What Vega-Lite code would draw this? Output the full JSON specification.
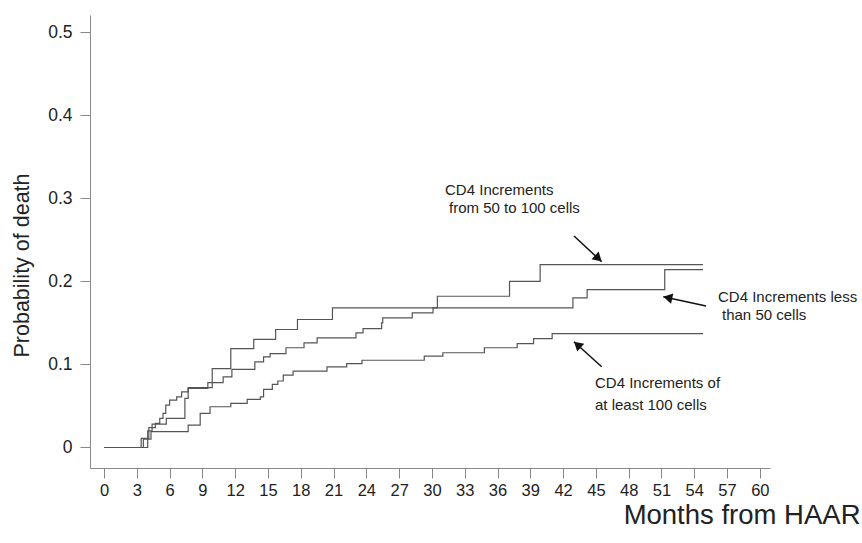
{
  "$schema": "https://vega.github.io/schema/vega-lite/v6.json",
  "width": 680,
  "height": 453,
  "autosize": {"type": "none"},
  "padding": {"left": 90, "top": 15, "right": 92, "bottom": 75},
  "background": "white",
  "config": {
    "view": {"stroke": null},
    "font": "Liberation Sans"
  },
  "datasets": {
    "curves": [
      {"g": "lt50", "m": 0, "v": 0},
      {"g": "lt50", "m": 3.4, "v": 0.011},
      {"g": "lt50", "m": 4.1, "v": 0.024},
      {"g": "lt50", "m": 4.7, "v": 0.029},
      {"g": "lt50", "m": 5.1, "v": 0.035},
      {"g": "lt50", "m": 5.4, "v": 0.041},
      {"g": "lt50", "m": 5.65, "v": 0.051},
      {"g": "lt50", "m": 6.0, "v": 0.057},
      {"g": "lt50", "m": 6.65, "v": 0.061},
      {"g": "lt50", "m": 7.1, "v": 0.067},
      {"g": "lt50", "m": 7.7, "v": 0.072},
      {"g": "lt50", "m": 9.9, "v": 0.095},
      {"g": "lt50", "m": 11.6, "v": 0.119},
      {"g": "lt50", "m": 13.7, "v": 0.130},
      {"g": "lt50", "m": 15.7, "v": 0.142},
      {"g": "lt50", "m": 17.7, "v": 0.154},
      {"g": "lt50", "m": 20.9, "v": 0.168},
      {"g": "lt50", "m": 42.9, "v": 0.180},
      {"g": "lt50", "m": 44.2, "v": 0.190},
      {"g": "lt50", "m": 51.3, "v": 0.214},
      {"g": "lt50", "m": 54.8, "v": 0.214},
      {"g": "50to100", "m": 0, "v": 0},
      {"g": "50to100", "m": 3.6, "v": 0.010},
      {"g": "50to100", "m": 4.0, "v": 0.020},
      {"g": "50to100", "m": 4.4, "v": 0.028},
      {"g": "50to100", "m": 5.7, "v": 0.035},
      {"g": "50to100", "m": 7.4, "v": 0.059},
      {"g": "50to100", "m": 7.7, "v": 0.071},
      {"g": "50to100", "m": 9.5, "v": 0.078},
      {"g": "50to100", "m": 10.9, "v": 0.085},
      {"g": "50to100", "m": 11.7, "v": 0.094},
      {"g": "50to100", "m": 13.8, "v": 0.103},
      {"g": "50to100", "m": 14.6, "v": 0.109},
      {"g": "50to100", "m": 15.2, "v": 0.113},
      {"g": "50to100", "m": 16.65, "v": 0.120},
      {"g": "50to100", "m": 18.3, "v": 0.126},
      {"g": "50to100", "m": 19.5, "v": 0.132},
      {"g": "50to100", "m": 23.05, "v": 0.138},
      {"g": "50to100", "m": 23.7, "v": 0.143},
      {"g": "50to100", "m": 25.4, "v": 0.150},
      {"g": "50to100", "m": 25.5, "v": 0.156},
      {"g": "50to100", "m": 28.2, "v": 0.162},
      {"g": "50to100", "m": 30.1, "v": 0.168},
      {"g": "50to100", "m": 30.5, "v": 0.182},
      {"g": "50to100", "m": 37.1, "v": 0.200},
      {"g": "50to100", "m": 39.9, "v": 0.220},
      {"g": "50to100", "m": 54.8, "v": 0.220},
      {"g": "ge100", "m": 0, "v": 0},
      {"g": "ge100", "m": 4.0, "v": 0.010},
      {"g": "ge100", "m": 4.3, "v": 0.019},
      {"g": "ge100", "m": 7.7, "v": 0.027},
      {"g": "ge100", "m": 8.8, "v": 0.041},
      {"g": "ge100", "m": 9.7, "v": 0.049},
      {"g": "ge100", "m": 11.6, "v": 0.053},
      {"g": "ge100", "m": 13.1, "v": 0.058},
      {"g": "ge100", "m": 14.3, "v": 0.061},
      {"g": "ge100", "m": 14.6, "v": 0.070},
      {"g": "ge100", "m": 15.4, "v": 0.076},
      {"g": "ge100", "m": 15.9, "v": 0.080},
      {"g": "ge100", "m": 16.4, "v": 0.087},
      {"g": "ge100", "m": 17.3, "v": 0.092},
      {"g": "ge100", "m": 20.4, "v": 0.097},
      {"g": "ge100", "m": 22.2, "v": 0.101},
      {"g": "ge100", "m": 23.6, "v": 0.105},
      {"g": "ge100", "m": 29.3, "v": 0.110},
      {"g": "ge100", "m": 31.0, "v": 0.114},
      {"g": "ge100", "m": 34.8, "v": 0.120},
      {"g": "ge100", "m": 37.8, "v": 0.125},
      {"g": "ge100", "m": 39.3, "v": 0.131},
      {"g": "ge100", "m": 41.0, "v": 0.137},
      {"g": "ge100", "m": 54.8, "v": 0.137}
    ],
    "arrows": [
      {"m": 43.0, "v": 0.2545, "m2": 45.53, "v2": 0.2236, "hm": 45.13, "hv": 0.2287, "ang": 133},
      {"m": 55.08, "v": 0.1703, "m2": 51.17, "v2": 0.1815, "hm": 51.71, "hv": 0.1799, "ang": 282},
      {"m": 45.53, "v": 0.0972, "m2": 43.0, "v2": 0.1273, "hm": 43.41, "hv": 0.1225, "ang": 312}
    ],
    "labels": [
      {"m": 31.2, "v": 0.3099, "t": "CD4 Increments"},
      {"m": 31.56, "v": 0.2882, "t": "from 50 to 100 cells"},
      {"m": 56.17, "v": 0.1811, "t": "CD4 Increments less"},
      {"m": 56.54, "v": 0.1594, "t": "than 50 cells"},
      {"m": 44.92, "v": 0.0776, "t": "CD4 Increments of"},
      {"m": 44.92, "v": 0.0511, "t": "at least 100 cells"}
    ]
  },
  "layer": [
    {
      "data": {"name": "curves"},
      "mark": {"type": "line", "interpolate": "step-after", "stroke": "#555555", "strokeWidth": 1.2},
      "encoding": {
        "x": {
          "field": "m", "type": "quantitative",
          "scale": {"domain": [-1.281, 60.93], "nice": false, "zero": false},
          "axis": {
            "values": [0,3,6,9,12,15,18,21,24,27,30,33,36,39,42,45,48,51,54,57,60],
            "tickCount": 40,
            "labelOverlap": false,
            "grid": false,
            "domainColor": "#888888",
            "tickColor": "#888888",
            "tickSize": 10,
            "labelFontSize": 16.5,
            "labelColor": "#222222",
            "labelPadding": 4,
            "title": "Months from HAAR",
            "titleFontSize": 27.5,
            "titleFontWeight": "normal",
            "titleColor": "#222222",
            "titleX": 770,
            "titleY": 47,
            "titleAlign": "right",
            "titleBaseline": "middle",
            "titleAnchor": "end"
          }
        },
        "y": {
          "field": "v", "type": "quantitative",
          "scale": {"domain": [-0.0247, 0.5205], "nice": false, "zero": false},
          "axis": {
            "values": [0, 0.1, 0.2, 0.3, 0.4, 0.5],
            "tickCount": 20,
            "format": ".1~f",
            "labelOverlap": false,
            "grid": false,
            "domainColor": "#888888",
            "tickColor": "#888888",
            "tickSize": 10,
            "labelFontSize": 17.5,
            "labelColor": "#222222",
            "labelPadding": 8,
            "title": "Probability of death",
            "titleFontSize": 21.5,
            "titleFontWeight": "normal",
            "titleColor": "#222222",
            "titleX": -68,
            "titleY": 250,
            "titleAngle": -90,
            "titleAlign": "center",
            "titleBaseline": "middle"
          }
        },
        "detail": {"field": "g", "type": "nominal"}
      }
    },
    {
      "data": {"name": "arrows"},
      "mark": {"type": "rule", "stroke": "#111111", "strokeWidth": 1.5},
      "encoding": {
        "x": {"field": "m", "type": "quantitative"},
        "y": {"field": "v", "type": "quantitative"},
        "x2": {"field": "m2"},
        "y2": {"field": "v2"}
      }
    },
    {
      "data": {"name": "arrows"},
      "mark": {"type": "point", "shape": "triangle", "filled": true, "color": "#111111", "size": 110, "opacity": 1},
      "encoding": {
        "x": {"field": "hm", "type": "quantitative"},
        "y": {"field": "hv", "type": "quantitative"},
        "angle": {"field": "ang", "type": "quantitative", "scale": null}
      }
    },
    {
      "data": {"name": "labels"},
      "mark": {"type": "text", "align": "left", "baseline": "middle", "fontSize": 15, "color": "#222222"},
      "encoding": {
        "x": {"field": "m", "type": "quantitative"},
        "y": {"field": "v", "type": "quantitative"},
        "text": {"field": "t", "type": "nominal"}
      }
    }
  ]
}
